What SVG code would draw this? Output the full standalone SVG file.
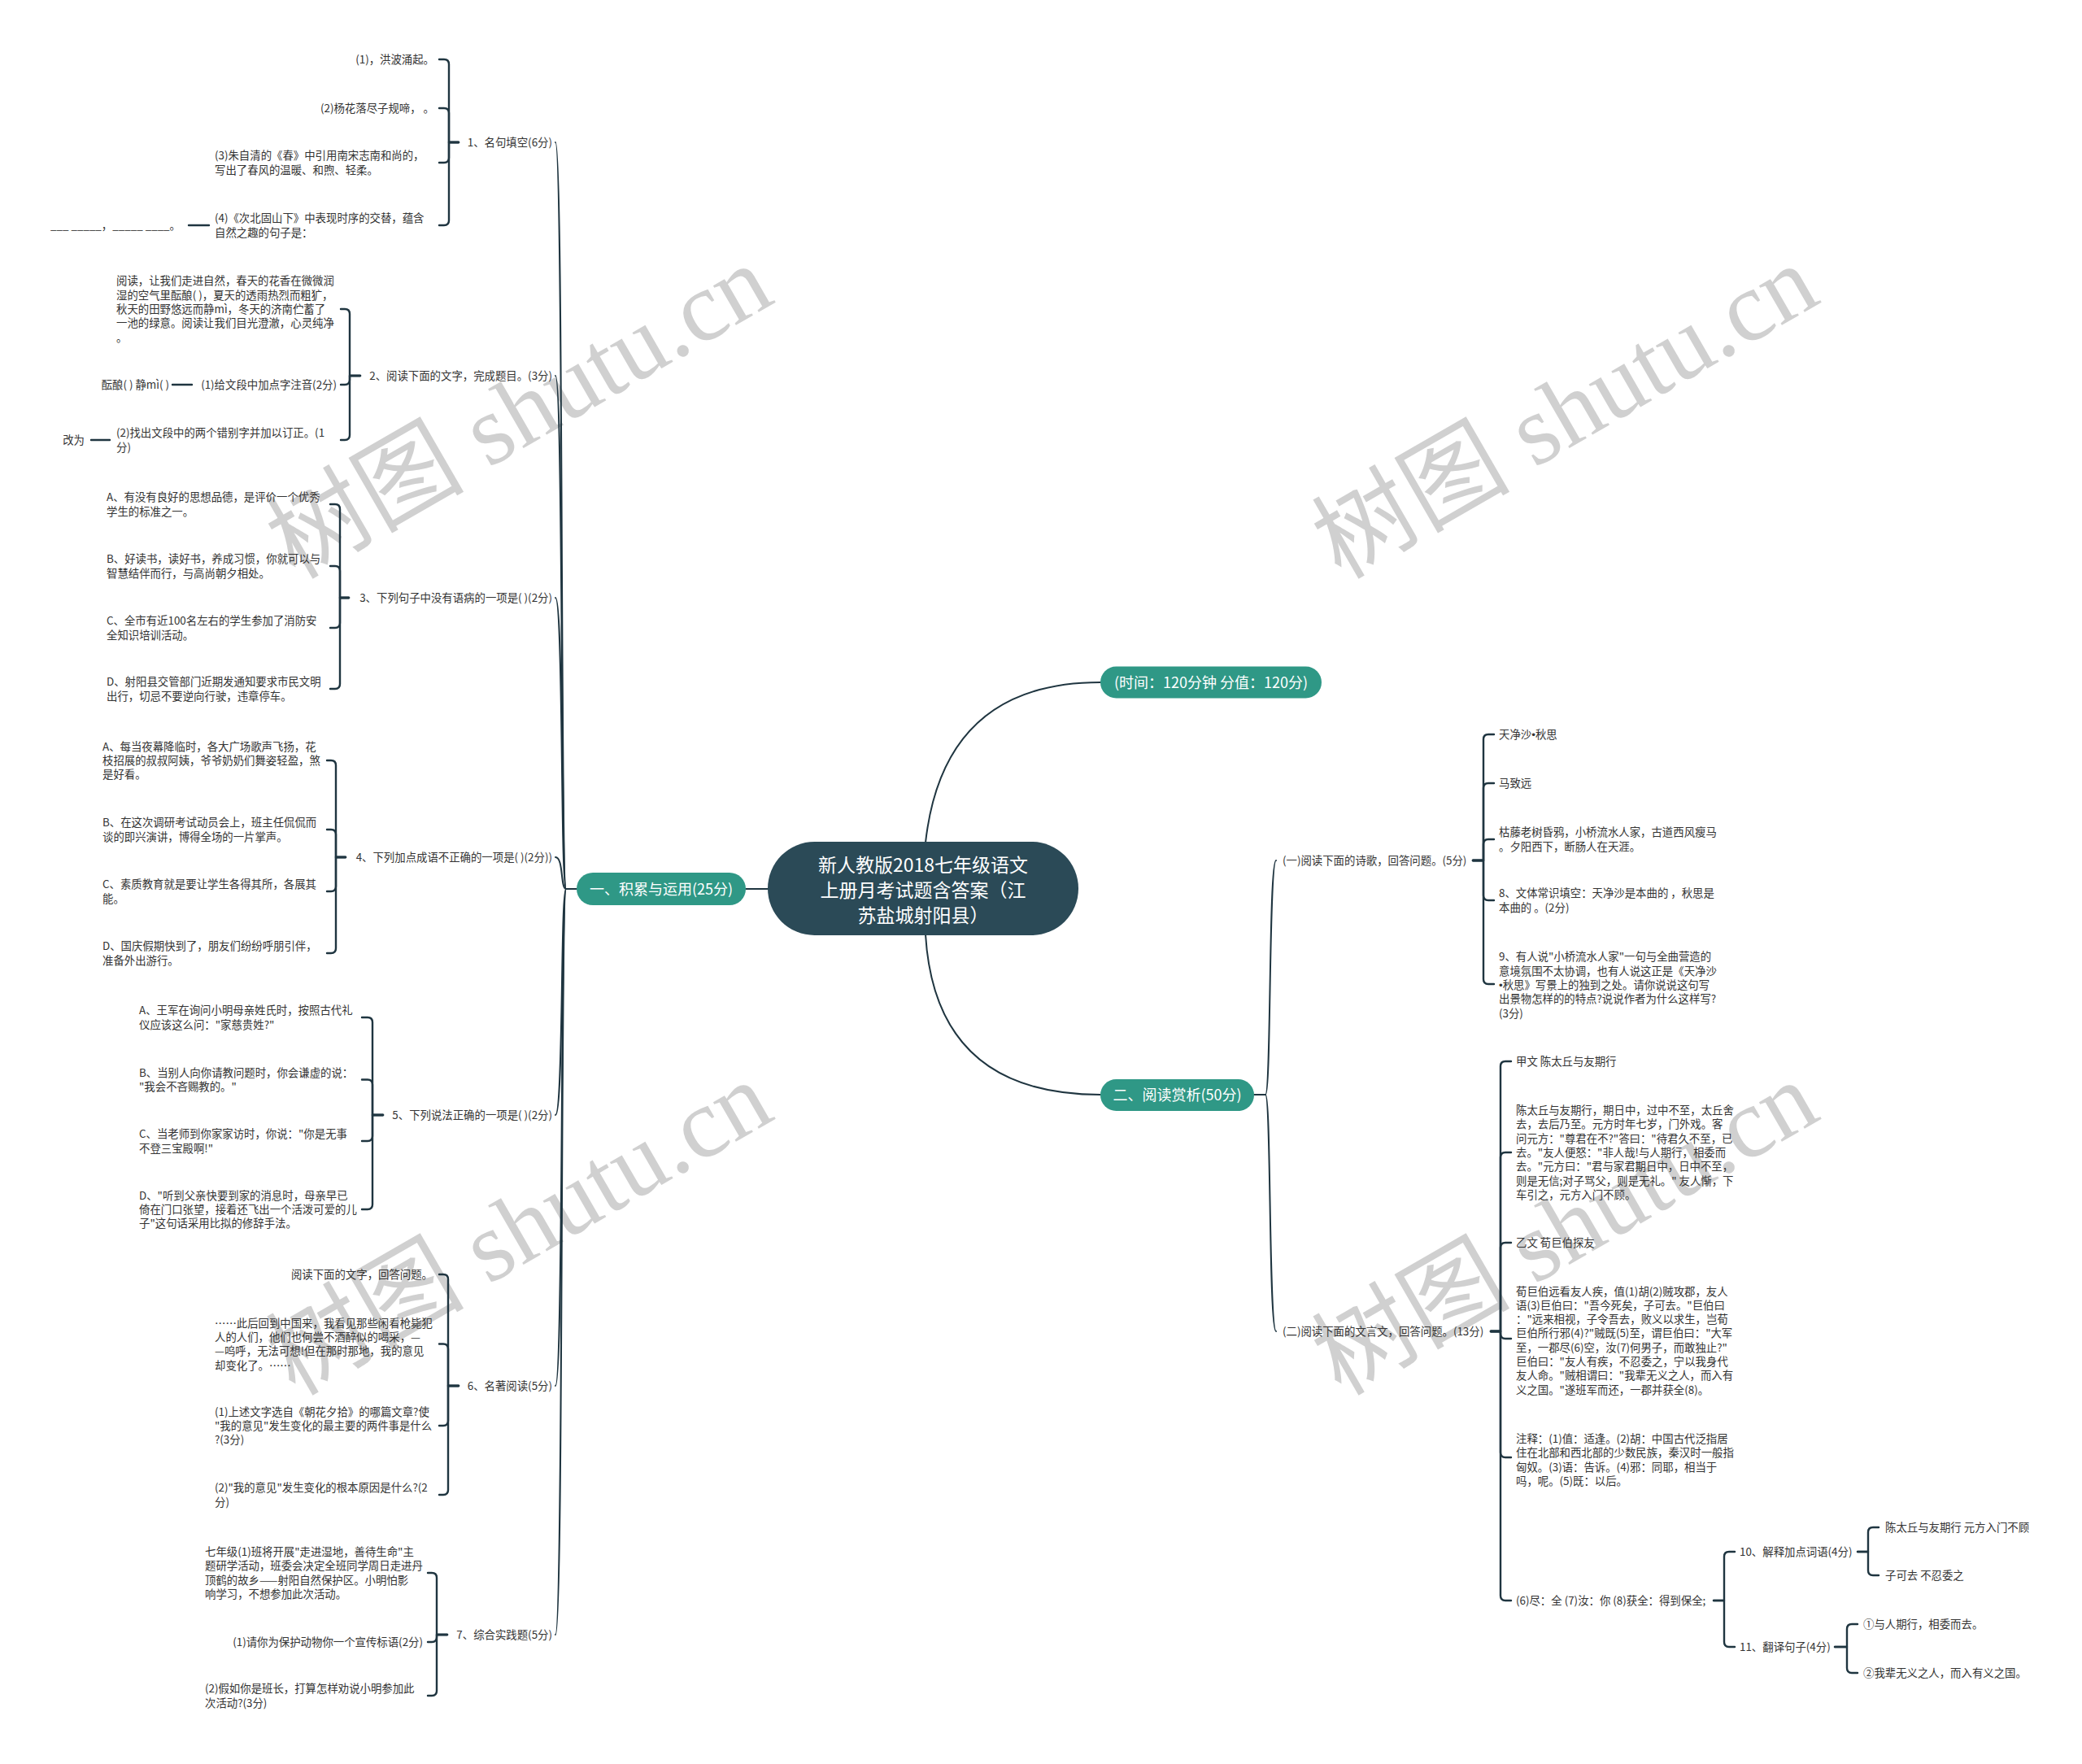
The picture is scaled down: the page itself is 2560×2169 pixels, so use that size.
<svg xmlns="http://www.w3.org/2000/svg" width="2560" height="2169" viewBox="0 0 2560 2169">
<style>
.t{font-family:"Noto Sans CJK SC","Liberation Sans",sans-serif;font-size:13.4px;fill:#333333}
.e{text-anchor:end}
.bl{font-family:"Liberation Sans",sans-serif}
.wm{font-family:"Liberation Serif","Noto Sans CJK SC",serif;font-size:122px;fill:#d0d0d0;text-anchor:middle}
.pill{fill:#2f9886}
.pt{font-family:"Noto Sans CJK SC","Liberation Sans",sans-serif;font-size:18px;fill:#ffffff;text-anchor:middle}
.ct{font-family:"Noto Sans CJK SC","Liberation Sans",sans-serif;font-size:23px;fill:#ffffff;text-anchor:middle}
#connectors path{fill:none;stroke:#1f3540;stroke-width:2;stroke-linecap:round;stroke-linejoin:round}
#connectors .b{stroke-width:2.4}
</style>
<rect width="2560" height="2169" fill="#ffffff"/>
<g id="watermark">
<text class="wm" transform="translate(659,542) rotate(-30)">树图 shutu.cn</text>
<text class="wm" transform="translate(1945,542) rotate(-30)">树图 shutu.cn</text>
<text class="wm" transform="translate(659,1546) rotate(-30)">树图 shutu.cn</text>
<text class="wm" transform="translate(1945,1546) rotate(-30)">树图 shutu.cn</text>
</g>
<g id="connectors">
<path d="M1138 1036 Q1160 839 1353 839"/>
<path d="M1138 1149 Q1150 1346 1353 1346"/>
<path d="M944 1093 H917"/>
<path d="M709 1093 H696"/>
<path d="M1542 1346 H1556"/>
<path d="M696 1093 C689 1093 693 175 683 175"/>
<path d="M696 1093 C689 1093 693 462 683 462"/>
<path d="M696 1093 C689 1093 693 735 683 735"/>
<path d="M696 1093 C689 1093 693 1054 683 1054"/>
<path d="M696 1093 C689 1093 693 1371 683 1371"/>
<path d="M696 1093 C689 1093 693 1704 683 1704"/>
<path d="M696 1093 C689 1093 693 2010 683 2010"/>
<path d="M1556 1346 C1563 1346 1560 1058 1569 1058"/>
<path d="M1556 1346 C1563 1346 1560 1637 1569 1637"/>
<path class="b" d="M564 175 H552 V79 Q552 73 546 73 H540"/>
<path class="b" d="M564 175 H552 V139 Q552 133 546 133 H540"/>
<path class="b" d="M564 175 H552 V194 Q552 200 546 200 H540"/>
<path class="b" d="M564 175 H552 V271 Q552 277 546 277 H540"/>
<path class="b" d="M257 277 H232"/>
<path class="b" d="M443 462 H430 V386 Q430 380 424 380 H419"/>
<path class="b" d="M443 462 H430 V467 Q430 473 424 473 H419"/>
<path class="b" d="M443 462 H430 V535 Q430 541 424 541 H419"/>
<path class="b" d="M236 473 H212"/>
<path class="b" d="M135 541 H112"/>
<path class="b" d="M429 735 H418 V626 Q418 620 412 620 H406"/>
<path class="b" d="M429 735 H418 V702 Q418 696 412 696 H406"/>
<path class="b" d="M429 735 H418 V766 Q418 772 412 772 H406"/>
<path class="b" d="M429 735 H418 V841 Q418 847 412 847 H406"/>
<path class="b" d="M425 1054 H413 V941 Q413 935 407 935 H402"/>
<path class="b" d="M425 1054 H413 V1026 Q413 1020 407 1020 H402"/>
<path class="b" d="M425 1054 H413 V1090 Q413 1096 407 1096 H402"/>
<path class="b" d="M425 1054 H413 V1166 Q413 1172 407 1172 H402"/>
<path class="b" d="M471 1371 H458 V1257 Q458 1251 452 1251 H445"/>
<path class="b" d="M471 1371 H458 V1333.5 Q458 1327.5 452 1327.5 H445"/>
<path class="b" d="M471 1371 H458 V1397 Q458 1403 452 1403 H445"/>
<path class="b" d="M471 1371 H458 V1481 Q458 1487 452 1487 H445"/>
<path class="b" d="M564 1704 H551 V1573 Q551 1567 545 1567 H540"/>
<path class="b" d="M564 1704 H551 V1658.5 Q551 1652.5 545 1652.5 H540"/>
<path class="b" d="M564 1704 H551 V1747 Q551 1753 545 1753 H540"/>
<path class="b" d="M564 1704 H551 V1832 Q551 1838 545 1838 H540"/>
<path class="b" d="M550 2010 H537 V1940 Q537 1934 531 1934 H526"/>
<path class="b" d="M550 2010 H537 V2013 Q537 2019 531 2019 H526"/>
<path class="b" d="M550 2010 H537 V2079 Q537 2085 531 2085 H526"/>
<path class="b" d="M1811 1058 H1824 V909 Q1824 903 1830 903 H1837"/>
<path class="b" d="M1811 1058 H1824 V969 Q1824 963 1830 963 H1837"/>
<path class="b" d="M1811 1058 H1824 V1038 Q1824 1032 1830 1032 H1837"/>
<path class="b" d="M1811 1058 H1824 V1101 Q1824 1107 1830 1107 H1837"/>
<path class="b" d="M1811 1058 H1824 V1204 Q1824 1210 1830 1210 H1837"/>
<path class="b" d="M1833 1637 H1845 V1311 Q1845 1305 1851 1305 H1858"/>
<path class="b" d="M1833 1637 H1845 V1423 Q1845 1417 1851 1417 H1858"/>
<path class="b" d="M1833 1637 H1845 V1534 Q1845 1528 1851 1528 H1858"/>
<path class="b" d="M1833 1637 H1845 V1640 Q1845 1646 1851 1646 H1858"/>
<path class="b" d="M1833 1637 H1845 V1786 Q1845 1792 1851 1792 H1858"/>
<path class="b" d="M1833 1637 H1845 V1962 Q1845 1968 1851 1968 H1858"/>
<path class="b" d="M2107 1968 H2120 V1914 Q2120 1908 2126 1908 H2133"/>
<path class="b" d="M2107 1968 H2120 V2019 Q2120 2025 2126 2025 H2133"/>
<path class="b" d="M2284 1908 H2297 V1884 Q2297 1878 2303 1878 H2310"/>
<path class="b" d="M2284 1908 H2297 V1931 Q2297 1937 2303 1937 H2310"/>
<path class="b" d="M2256 2025 H2271 V2003 Q2271 1997 2277 1997 H2284"/>
<path class="b" d="M2256 2025 H2271 V2051 Q2271 2057 2277 2057 H2284"/>
</g>
<g id="root">
<rect x="944" y="1035" width="382" height="115" rx="57.5" fill="#2b4a57"/>
<text class="ct"><tspan x="1135" y="1072">新人教版2018七年级语文</tspan><tspan x="1135" y="1103">上册月考试题含答案（江</tspan><tspan x="1135" y="1134">苏盐城射阳县）</tspan></text>
</g>
<g id="b-time">
<rect class="pill" x="1353" y="819.5" width="272" height="39" rx="19.5"/>
<text class="pt" x="1489" y="845.5">(时间：120分钟 分值：120分)</text>
</g>
<g id="b-left">
<rect class="pill" x="709" y="1073" width="208" height="40" rx="20"/>
<text class="pt" x="813" y="1099.5">一、积累与运用(25分)</text>
</g>
<g id="b-right">
<rect class="pill" x="1353" y="1327" width="189" height="39" rx="19.5"/>
<text class="pt" x="1447.5" y="1353">二、阅读赏析(50分)</text>
</g>
<g id="q1">
<text class="t e" x="679" y="180">1、名句填空(6分)</text>
<text class="t e" x="534" y="78">(1)，洪波涌起。</text>
<text class="t e" x="534" y="138">(2)杨花落尽子规啼， 。</text>
<text class="t"><tspan x="264" y="196.4">(3)朱自清的《春》中引用南宋志南和尚的，</tspan><tspan x="264" y="213.7">写出了春风的温暖、和煦、轻柔。</tspan></text>
<text class="t"><tspan x="264" y="273.4">(4)《次北固山下》中表现时序的交替，蕴含</tspan><tspan x="264" y="290.7">自然之趣的句子是：</tspan></text>
<text class="t e" x="222" y="282">___ _____，_____ ____。</text>
</g>
<g id="q2">
<text class="t e" x="679" y="467">2、阅读下面的文字，完成题目。(3分)</text>
<text class="t"><tspan x="143" y="350.4">阅读，让我们走进自然，春天的花香在微微润</tspan><tspan x="143" y="367.7">湿的空气里酝酿( )，夏天的透雨热烈而粗犷，</tspan><tspan x="143" y="385">秋天的田野悠远而静mì，冬天的济南伫蓄了</tspan><tspan x="143" y="402.3">一池的绿意。阅读让我们目光澄澈，心灵纯净</tspan><tspan x="143" y="419.6">。</tspan></text>
<text class="t e" x="414" y="478">(1)给文段中加点字注音(2分)</text>
<text class="t e" x="208" y="478">酝酿( ) 静mì( )</text>
<text class="t"><tspan x="143" y="537.4">(2)找出文段中的两个错别字并加以订正。(1</tspan><tspan x="143" y="554.7">分)</tspan></text>
<text class="t e" x="104" y="546">改为</text>
</g>
<g id="q3">
<text class="t e" x="679" y="740">3、下列句子中没有语病的一项是( )(2分)</text>
<text class="t"><tspan x="131" y="616.4">A、有没有良好的思想品德，是评价一个优秀</tspan><tspan x="131" y="633.7">学生的标准之一。</tspan></text>
<text class="t"><tspan x="131" y="692.4">B、好读书，读好书，养成习惯，你就可以与</tspan><tspan x="131" y="709.7">智慧结伴而行，与高尚朝夕相处。</tspan></text>
<text class="t"><tspan x="131" y="768.4">C、全市有近100名左右的学生参加了消防安</tspan><tspan x="131" y="785.7">全知识培训活动。</tspan></text>
<text class="t"><tspan x="131" y="843.4">D、射阳县交管部门近期发通知要求市民文明</tspan><tspan x="131" y="860.7">出行，切忌不要逆向行驶，违章停车。</tspan></text>
</g>
<g id="q4">
<text class="t e" x="679" y="1059">4、下列加点成语不正确的一项是( )(2分))</text>
<text class="t"><tspan x="126" y="922.7">A、每当夜幕降临时，各大广场歌声飞扬，花</tspan><tspan x="126" y="940">枝招展的叔叔阿姨，爷爷奶奶们舞姿轻盈，煞</tspan><tspan x="126" y="957.3">是好看。</tspan></text>
<text class="t"><tspan x="126" y="1016.4">B、在这次调研考试动员会上，班主任侃侃而</tspan><tspan x="126" y="1033.7">谈的即兴演讲，博得全场的一片掌声。</tspan></text>
<text class="t"><tspan x="126" y="1092.4">C、素质教育就是要让学生各得其所，各展其</tspan><tspan x="126" y="1109.7">能。</tspan></text>
<text class="t"><tspan x="126" y="1168.4">D、国庆假期快到了，朋友们纷纷呼朋引伴，</tspan><tspan x="126" y="1185.7">准备外出游行。</tspan></text>
</g>
<g id="q5">
<text class="t e" x="679" y="1376">5、下列说法正确的一项是( )(2分)</text>
<text class="t"><tspan x="171" y="1247.4">A、王军在询问小明母亲姓氏时，按照古代礼</tspan><tspan x="171" y="1264.7">仪应该这么问："家慈贵姓?"</tspan></text>
<text class="t"><tspan x="171" y="1323.9">B、当别人向你请教问题时，你会谦虚的说：</tspan><tspan x="171" y="1341.2">"我会不吝赐教的。"</tspan></text>
<text class="t"><tspan x="171" y="1399.4">C、当老师到你家家访时，你说："你是无事</tspan><tspan x="171" y="1416.7">不登三宝殿啊!"</tspan></text>
<text class="t"><tspan x="171" y="1474.7">D、"听到父亲快要到家的消息时，母亲早已</tspan><tspan x="171" y="1492">倚在门口张望，接着还飞出一个活泼可爱的儿</tspan><tspan x="171" y="1509.3">子"这句话采用比拟的修辞手法。</tspan></text>
</g>
<g id="q6">
<text class="t e" x="679" y="1709">6、名著阅读(5分)</text>
<text class="t e" x="532" y="1572">阅读下面的文字，回答问题。</text>
<text class="t"><tspan x="264" y="1631.5">……此后回到中国来，我看见那些闲看枪毙犯</tspan><tspan x="264" y="1648.9">人的人们，他们也何尝不酒醉似的喝采，—</tspan><tspan x="264" y="1666.2">—呜呼，无法可想!但在那时那地，我的意见</tspan><tspan x="264" y="1683.5">却变化了。……</tspan></text>
<text class="t"><tspan x="264" y="1740.7">(1)上述文字选自《朝花夕拾》的哪篇文章?使</tspan><tspan x="264" y="1758">"我的意见"发生变化的最主要的两件事是什么</tspan><tspan x="264" y="1775.3">?(3分)</tspan></text>
<text class="t"><tspan x="264" y="1834.4">(2)"我的意见"发生变化的根本原因是什么?(2</tspan><tspan x="264" y="1851.7">分)</tspan></text>
</g>
<g id="q7">
<text class="t e" x="679" y="2015">7、综合实践题(5分)</text>
<text class="t"><tspan x="252" y="1913">七年级(1)班将开展"走进湿地，善待生命"主</tspan><tspan x="252" y="1930.4">题研学活动，班委会决定全班同学周日走进丹</tspan><tspan x="252" y="1947.7">顶鹤的故乡——射阳自然保护区。小明怕影</tspan><tspan x="252" y="1965">响学习，不想参加此次活动。</tspan></text>
<text class="t e" x="520" y="2024">(1)请你为保护动物你一个宣传标语(2分)</text>
<text class="t"><tspan x="252" y="2081.4">(2)假如你是班长，打算怎样劝说小明参加此</tspan><tspan x="252" y="2098.7">次活动?(3分)</tspan></text>
</g>
<g id="r1">
<text class="t" x="1577" y="1063">(一)阅读下面的诗歌，回答问题。(5分)</text>
<text class="t" x="1843" y="908">天净沙<tspan class="bl">•</tspan>秋思</text>
<text class="t" x="1843" y="968">马致远</text>
<text class="t"><tspan x="1843" y="1028.4">枯藤老树昏鸦，小桥流水人家，古道西风瘦马</tspan><tspan x="1843" y="1045.7">。夕阳西下，断肠人在天涯。</tspan></text>
<text class="t"><tspan x="1843" y="1103.4">8、文体常识填空：天净沙是本曲的 ，秋思是</tspan><tspan x="1843" y="1120.7">本曲的 。(2分)</tspan></text>
<text class="t"><tspan x="1843" y="1181.4">9、有人说"小桥流水人家"一句与全曲营造的</tspan><tspan x="1843" y="1198.7">意境氛围不太协调，也有人说这正是《天净沙</tspan><tspan x="1843" y="1216"><tspan class="bl">•</tspan>秋思》写景上的独到之处。请你说说这句写</tspan><tspan x="1843" y="1233.3">出景物怎样的的特点?说说作者为什么这样写?</tspan><tspan x="1843" y="1250.6">(3分)</tspan></text>
</g>
<g id="r2">
<text class="t" x="1577" y="1642">(二)阅读下面的文言文，回答问题。(13分)</text>
<text class="t" x="1864" y="1310">甲文 陈太丘与友期行</text>
<text class="t"><tspan x="1864" y="1370.1">陈太丘与友期行，期日中，过中不至，太丘舍</tspan><tspan x="1864" y="1387.4">去，去后乃至。元方时年七岁，门外戏。客</tspan><tspan x="1864" y="1404.7">问元方："尊君在不?"答曰："待君久不至，已</tspan><tspan x="1864" y="1422">去。"友人便怒："非人哉!与人期行，相委而</tspan><tspan x="1864" y="1439.3">去。"元方曰："君与家君期日中，日中不至，</tspan><tspan x="1864" y="1456.6">则是无信;对子骂父，则是无礼。" 友人惭，下</tspan><tspan x="1864" y="1473.9">车引之，元方入门不顾。</tspan></text>
<text class="t" x="1864" y="1533">乙文 荀巨伯探友</text>
<text class="t"><tspan x="1864" y="1592.5">荀巨伯远看友人疾，值(1)胡(2)贼攻郡，友人</tspan><tspan x="1864" y="1609.8">语(3)巨伯曰："吾今死矣，子可去。"巨伯曰</tspan><tspan x="1864" y="1627.1">："远来相视，子令吾去，败义以求生，岂荀</tspan><tspan x="1864" y="1644.4">巨伯所行邪(4)?"贼既(5)至，谓巨伯曰："大军</tspan><tspan x="1864" y="1661.7">至，一郡尽(6)空，汝(7)何男子，而敢独止?"</tspan><tspan x="1864" y="1679">巨伯曰："友人有疾，不忍委之，宁以我身代</tspan><tspan x="1864" y="1696.3">友人命。"贼相谓曰："我辈无义之人，而入有</tspan><tspan x="1864" y="1713.6">义之国。"遂班军而还，一郡并获全(8)。</tspan></text>
<text class="t"><tspan x="1864" y="1774">注释：(1)值：适逢。(2)胡：中国古代泛指居</tspan><tspan x="1864" y="1791.4">住在北部和西北部的少数民族，秦汉时一般指</tspan><tspan x="1864" y="1808.7">匈奴。(3)语：告诉。(4)邪：同耶，相当于</tspan><tspan x="1864" y="1826">吗，呢。(5)既：以后。</tspan></text>
<text class="t" x="1864" y="1973">(6)尽：全 (7)汝：你 (8)获全：得到保全;</text>
</g>
<g id="r2-10">
<text class="t" x="2139" y="1913">10、解释加点词语(4分)</text>
<text class="t" x="2318" y="1883">陈太丘与友期行 元方入门不顾</text>
<text class="t" x="2318" y="1942">子可去 不忍委之</text>
</g>
<g id="r2-11">
<text class="t" x="2139" y="2030">11、翻译句子(4分)</text>
<text class="t" x="2291" y="2002">①与人期行，相委而去。</text>
<text class="t" x="2291" y="2062">②我辈无义之人，而入有义之国。</text>
</g>
</svg>
